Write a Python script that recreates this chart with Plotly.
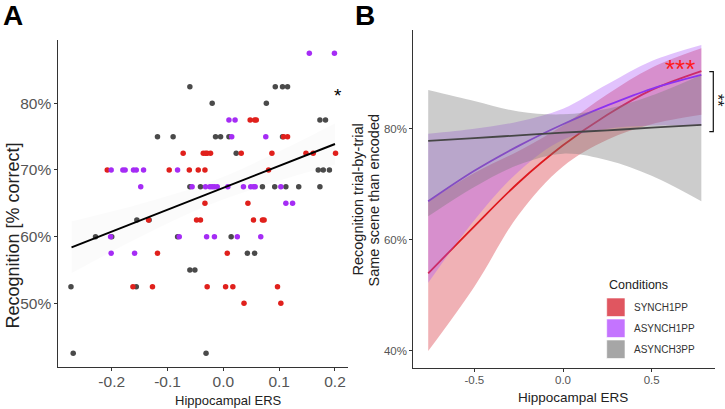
import plotly.graph_objects as go

W, H = 725, 409

# ---------------- Panel A data ----------------
synch1_x = [0.048, 0.056, 0.059, 0.108, 0.115,
            -0.072, -0.036, -0.032, -0.029, -0.023, 0.032, 0.087, 0.148, 0.161, 0.201,
            -0.208, -0.097, -0.061, -0.045, -0.033, 0.081,
            -0.033, 0.044,
            -0.134, -0.048, -0.041, 0.054, 0.070, 0.073,
            -0.118, 0.007,
            -0.162, -0.127, -0.029, 0.004, 0.017, 0.097,
            0.037, 0.103]
synch1_y = [77.5, 77.5, 77.5, 75, 75,
            72.5, 72.5, 72.5, 72.5, 72.5, 72.5, 72.5, 72.5, 72.5, 72.5,
            70, 70, 70, 70, 70, 70,
            65, 65,
            62.5, 62.5, 62.5, 62.5, 62.5, 62.5,
            57.5, 57.5,
            52.5, 52.5, 52.5, 52.5, 52.5, 52.5,
            50, 50]

asynch1_x = [0.154, 0.199,
             0.010, 0.021,
             0.015, 0.076,
             -0.201, -0.180, -0.176, -0.161, -0.156, -0.143, -0.082,
             -0.148, -0.056, -0.032, -0.024, -0.020, -0.016, -0.011, 0.008, 0.036, 0.049, 0.054, 0.057, 0.103,
             0.112, 0.124,
             -0.202, -0.079, -0.030, -0.016, 0.025, 0.067,
             -0.201, -0.159]
asynch1_y = [87.5, 87.5,
             77.5, 77.5,
             75, 75,
             70, 70, 70, 70, 70, 70, 70,
             67.5, 67.5, 67.5, 67.5, 67.5, 67.5, 67.5, 67.5, 67.5, 67.5, 67.5, 67.5, 67.5,
             65, 65,
             60, 60, 60, 60, 60, 60,
             57.5, 57.5]

asynch3_x = [-0.060, 0.093, 0.106, 0.115,
             -0.020, 0.077,
             0.173, 0.183,
             -0.118, -0.090, -0.014, -0.005, 0.010, 0.106,
             0.023,
             0.170, 0.179, 0.190,
             -0.060, -0.041, 0.070, 0.092, 0.112, 0.135, 0.173,
             -0.155, -0.133,
             -0.229, -0.200, -0.082, 0.014,
             0.043, 0.056,
             -0.060, -0.051,
             -0.273, -0.156,
             -0.269, -0.031]
asynch3_y = [82.5, 82.5, 82.5, 82.5,
             80, 80,
             77.5, 77.5,
             75, 75, 75, 75, 75, 75,
             72.5,
             70, 70, 70,
             67.5, 67.5, 67.5, 67.5, 67.5, 67.5, 67.5,
             62.5, 62.5,
             60, 60, 60, 60,
             57.5, 57.5,
             55, 55,
             52.5, 52.5,
             42.5, 42.5]

fitA_x = [-0.272, -0.15, -0.03, 0.1, 0.2]
fitA_y = [58.4, 62.4, 66.3, 70.6, 73.9]
fitA_lo = [54.5, 59.9, 64.6, 68.4, 70.8]
fitA_hi = [62.3, 64.9, 68.0, 72.8, 77.0]

A_xticks = [-0.2, -0.1, 0.0, 0.1, 0.2]
A_xtext = ["-0.2", "-0.1", "0.0", "0.1", "0.2"]
A_yticks = [50, 60, 70, 80]
A_ytext = ["50%", "60%", "70%", "80%"]

# ---------------- Panel B data ----------------
grid_x = [-0.76, -0.5, -0.25, 0.0, 0.25, 0.5, 0.78]
synch1_fit = [53.9, 62.4, 70.3, 77.0, 82.5, 87.0, 90.4]
synch1_lo = [39.9, 51.5, 64.5, 73.2, 78.0, 80.8, 82.5]
synch1_hi = [66.9, 72.0, 76.0, 80.6, 86.2, 91.0, 94.5]

asynch1_fit = [66.9, 72.4, 76.9, 80.8, 84.2, 87.2, 89.7]
asynch1_lo = [52.2, 63.5, 72.3, 78.0, 80.0, 80.6, 80.5]
asynch1_hi = [79.1, 80.0, 81.3, 83.6, 88.0, 92.2, 95.1]

asynch3_fit = [77.8, 78.3, 78.8, 79.3, 79.7, 80.2, 80.7]
asynch3_lo = [64.2, 69.5, 73.5, 75.5, 74.3, 71.5, 66.9]
asynch3_hi = [87.0, 85.0, 83.1, 82.6, 83.6, 86.0, 89.7]

B_xticks = [-0.5, 0.0, 0.5]
B_xtext = ["-0.5", "0.0", "0.5"]
B_yticks = [40, 60, 80]
B_ytext = ["40%", "60%", "80%"]

conditions = ["SYNCH1PP", "ASYNCH1PP", "ASYNCH3PP"]

# ---------------- styles ----------------
FONT = "Liberation Sans, Arial, sans-serif"
pt_col = {"SYNCH1PP": "#e0201c", "ASYNCH1PP": "#a52cf5", "ASYNCH3PP": "#4a4a4a"}
line_col = {"SYNCH1PP": "rgb(222,25,30)", "ASYNCH1PP": "rgb(140,50,240)", "ASYNCH3PP": "rgb(70,70,70)"}
band_col = {"SYNCH1PP": "rgba(215,50,60,0.38)", "ASYNCH1PP": "rgba(170,80,250,0.35)",
            "ASYNCH3PP": "rgba(120,120,120,0.38)"}
key_col = {"SYNCH1PP": "rgb(224,86,96)", "ASYNCH1PP": "rgb(196,116,255)", "ASYNCH3PP": "rgb(166,166,166)"}


def px(x):
    return x / W


def py(y):
    return 1 - y / H


fig = go.Figure()

# Panel A
fig.add_trace(go.Scatter(x=fitA_x, y=fitA_lo, mode="lines", line=dict(width=0), hoverinfo="skip",
                         showlegend=False, xaxis="x", yaxis="y", line_shape="spline"))
fig.add_trace(go.Scatter(x=fitA_x, y=fitA_hi, mode="lines", line=dict(width=0), fill="tonexty",
                         fillcolor="rgba(0,0,0,0.014)", hoverinfo="skip", showlegend=False,
                         xaxis="x", yaxis="y", line_shape="spline"))
for name, xs, ys in [("ASYNCH3PP", asynch3_x, asynch3_y), ("SYNCH1PP", synch1_x, synch1_y),
                     ("ASYNCH1PP", asynch1_x, asynch1_y)]:
    fig.add_trace(go.Scatter(x=xs, y=ys, mode="markers", marker=dict(size=5.5, color=pt_col[name]),
                             showlegend=False, xaxis="x", yaxis="y"))
fig.add_trace(go.Scatter(x=[fitA_x[0], fitA_x[-1]], y=[fitA_y[0], fitA_y[-1]], mode="lines",
                         line=dict(color="black", width=2), showlegend=False, xaxis="x", yaxis="y"))

# Panel B
for name, fit, lo, hi in [("SYNCH1PP", synch1_fit, synch1_lo, synch1_hi),
                          ("ASYNCH1PP", asynch1_fit, asynch1_lo, asynch1_hi),
                          ("ASYNCH3PP", asynch3_fit, asynch3_lo, asynch3_hi)]:
    fig.add_trace(go.Scatter(x=grid_x, y=lo, mode="lines", line=dict(width=0, shape="spline"),
                             hoverinfo="skip", showlegend=False, xaxis="x2", yaxis="y2"))
    fig.add_trace(go.Scatter(x=grid_x, y=hi, mode="lines", line=dict(width=0, shape="spline"),
                             fill="tonexty", fillcolor=band_col[name], hoverinfo="skip",
                             showlegend=False, xaxis="x2", yaxis="y2"))
    fig.add_trace(go.Scatter(x=grid_x, y=fit, mode="lines",
                             line=dict(width=1.8, color=line_col[name], shape="spline"),
                             showlegend=False, xaxis="x2", yaxis="y2"))

axis_common = dict(showgrid=False, zeroline=False, showline=True, linecolor="#333", linewidth=1,
                   ticks="outside", ticklen=3, tickcolor="#333", mirror=False)

fig.update_layout(
    width=W, height=H, autosize=False,
    margin=dict(l=0, r=0, t=0, b=0),
    paper_bgcolor="white", plot_bgcolor="white",
    font=dict(family=FONT),
    xaxis=dict(domain=[px(58.3), px(348)], range=[-0.2957, 0.2233], anchor="y",
               tickvals=A_xticks, ticktext=A_xtext, ticklabelstandoff=-3,
               tickfont=dict(size=15.5, color="#555"), **axis_common),
    yaxis=dict(domain=[py(367.3), py(40)], range=[40.4, 89.5], anchor="x",
               tickvals=A_yticks, ticktext=A_ytext,
               tickfont=dict(size=15.5, color="#555"), **axis_common),
    xaxis2=dict(domain=[px(413.3), px(715)], range=[-0.844, 0.857], anchor="y2",
                tickvals=B_xticks, ticktext=B_xtext, ticklabelstandoff=-2,
                tickfont=dict(size=11.5, color="#555"), **axis_common),
    yaxis2=dict(domain=[py(367.7), py(30)], range=[36.9, 97.8], anchor="x2",
                tickvals=B_yticks, ticktext=B_ytext,
                tickfont=dict(size=11.5, color="#555"), **axis_common),
)

annotations = []


def ann(text, x, y, size, color="#111", angle=0, bold=False, xanchor="center"):
    annotations.append(dict(text=f"<b>{text}</b>" if bold else text, x=px(x), y=py(y),
                            xref="paper", yref="paper", xanchor=xanchor, yanchor="middle",
                            showarrow=False, textangle=angle,
                            font=dict(size=size, color=color, family=FONT)))


ann("A", 12.5, 15, 28, "#000", bold=True)
ann("B", 365, 15, 28, "#000", bold=True)
ann("Recognition [% correct]", 12.5, 236, 18, "#222", angle=-90)
ann("Hippocampal ERS", 228, 400, 13, "#222")
ann("*", 338, 95, 19, "#000")
ann("Recognition trial-by-trial", 357.5, 200, 14.5, "#222", angle=-90)
ann("Same scene than encoded", 373.5, 200, 14.5, "#222", angle=-90)
ann("Hippocampal ERS", 573, 397, 13.5, "#222")
ann("***", 680, 69, 26, "#ff1a1a")
ann("**", 718, 100, 16, "#111", angle=90)

# legend (manual)
ann("Conditions", 606.7, 285, 12.5, "#222", xanchor="left")
key_tops = [298, 319, 340]
for name, top in zip(conditions, key_tops):
    fig.add_shape(type="rect", xref="paper", yref="paper", x0=px(606.7), x1=px(625),
                  y0=py(top + 18.5), y1=py(top), fillcolor=key_col[name], line=dict(width=0.6, color="white"))
    ann(name, 631.7, top + 9.5, 10, "#333", xanchor="left")

# significance bracket
fig.add_shape(type="path", xref="paper", yref="paper",
              path=f"M {px(709.3)},{py(71.7)} L {px(713.3)},{py(71.7)} L {px(713.3)},{py(131.7)} L {px(709.3)},{py(131.7)}",
              line=dict(color="#111", width=1.2))

fig.update_layout(annotations=annotations)
fig.write_html("out.html", config={"displayModeBar": False},
               post_script="document.body.style.margin='0px';")
